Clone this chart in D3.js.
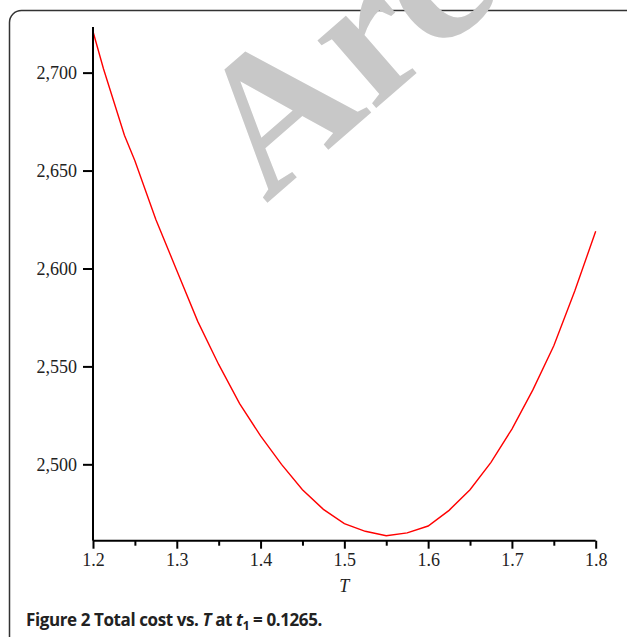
<!DOCTYPE html>
<html>
<head>
<meta charset="utf-8">
<script src="https://cdn.jsdelivr.net/npm/d3@7"></script>
<style>
  body { margin: 0; background: #fff; }
  svg { display: block; }
</style>
</head>
<body>
<div id="chart"></div>
<script>
// values: total cost against T
const tValues = [1.2, 1.2125, 1.225, 1.2375, 1.25, 1.275, 1.3, 1.325, 1.35, 1.375, 1.4, 1.425,
  1.45, 1.475, 1.5, 1.525, 1.55, 1.575, 1.6, 1.625, 1.65, 1.675, 1.7, 1.725, 1.75, 1.775, 1.8]
const costValues = [2721, 2702, 2685, 2668, 2655, 2625, 2599, 2573, 2551, 2531, 2514.5, 2500,
  2487, 2477, 2469.7, 2465.8, 2463.5, 2465, 2468.5, 2476.5, 2487, 2501, 2518, 2538, 2560.5, 2588.5, 2619]
const xTicks = [1.2, 1.3, 1.4, 1.5, 1.6, 1.7, 1.8]
const xMinorTicks = [1.25, 1.35, 1.45, 1.55, 1.65, 1.75]
const yTicks = [2500, 2550, 2600, 2650, 2700]

const width = 627
const height = 637

const svg = d3
  .select('#chart')
  .append('svg')
  .attr('width', width)
  .attr('height', height)

// frame round the figure
svg
  .append('rect')
  .attr('x', 9.5)
  .attr('y', 10.5)
  .attr('width', 640)
  .attr('height', 660)
  .attr('rx', 12)
  .attr('fill', 'none')
  .attr('stroke', '#333')
  .attr('stroke-width', 1.5)

// watermark (runs off the top of the picture, as in the original)
svg
  .append('text')
  .text('Archived')
  .attr('transform', 'translate(266,204) rotate(-41)')
  .attr('font-family', 'Liberation Serif')
  .attr('font-weight', 'bold')
  .attr('font-size', 195)
  .attr('fill', '#c8c8c8')

const xPositionScale = d3.scaleLinear().domain([1.2, 1.8]).range([93, 595.7])
const yPositionScale = d3.scaleLinear().domain([2461, 2723.3]).range([540.7, 27])

const data = tValues.map((t, i) => ({ t: t, cost: costValues[i] }))

const line = d3
  .line()
  .x(d => xPositionScale(d.t))
  .y(d => yPositionScale(d.cost))

svg
  .append('path')
  .datum(data)
  .attr('d', line)
  .attr('fill', 'none')
  .attr('stroke', '#ff0000')
  .attr('stroke-width', 1.4)

const xAxis = d3
  .axisBottom(xPositionScale)
  .tickValues(xTicks)
  .tickSize(8)
  .tickPadding(5)
  .tickFormat(d3.format('.1f'))
svg
  .append('g')
  .attr('class', 'axis x-axis')
  .attr('transform', 'translate(0,' + yPositionScale.range()[0] + ')')
  .call(xAxis)

const xMinor = d3
  .axisBottom(xPositionScale)
  .tickValues(xMinorTicks)
  .tickSize(5)
  .tickFormat('')
svg
  .append('g')
  .attr('class', 'axis x-minor')
  .attr('transform', 'translate(0,' + yPositionScale.range()[0] + ')')
  .call(xMinor)
svg.select('.x-minor path').remove()

const yAxis = d3
  .axisLeft(yPositionScale)
  .tickValues(yTicks)
  .tickSize(10)
  .tickPadding(6)
  .tickFormat(d3.format(','))
svg
  .append('g')
  .attr('class', 'axis y-axis')
  .attr('transform', 'translate(' + xPositionScale.range()[0] + ',0)')
  .call(yAxis)

// plain axis lines, no end caps
svg.selectAll('.axis path, .axis line').attr('stroke', '#000').attr('stroke-width', 2)
svg.select('.x-axis path').attr('d', 'M' + xPositionScale.range()[0] + ',0H' + xPositionScale.range()[1])
svg.select('.y-axis path').attr('d', 'M0,' + yPositionScale.range()[0] + 'V' + yPositionScale.range()[1])
svg
  .selectAll('.axis text')
  .attr('font-family', 'Liberation Serif')
  .attr('font-size', 18)
  .attr('fill', '#222')

svg
  .append('text')
  .text('T')
  .attr('x', xPositionScale(1.5))
  .attr('y', 592)
  .attr('text-anchor', 'middle')
  .attr('font-family', 'Liberation Serif')
  .attr('font-style', 'italic')
  .attr('font-size', 18)
  .attr('fill', '#222')

// caption
const caption = svg
  .append('text')
  .attr('x', 26)
  .attr('y', 626)
  .attr('font-family', 'Open Sans')
  .attr('font-weight', 'bold')
  .attr('font-size', 17)
  .attr('letter-spacing', -0.4)
  .attr('fill', '#222')
caption.append('tspan').text('Figure 2 Total cost vs. ')
caption.append('tspan').text('T').attr('font-style', 'italic')
caption.append('tspan').text(' at ')
caption.append('tspan').text('t').attr('font-style', 'italic')
caption.append('tspan').text('1').attr('font-size', 12).attr('dy', 4)
caption.append('tspan').text(' = 0.1265.').attr('dy', -4)
</script>
</body>
</html>
